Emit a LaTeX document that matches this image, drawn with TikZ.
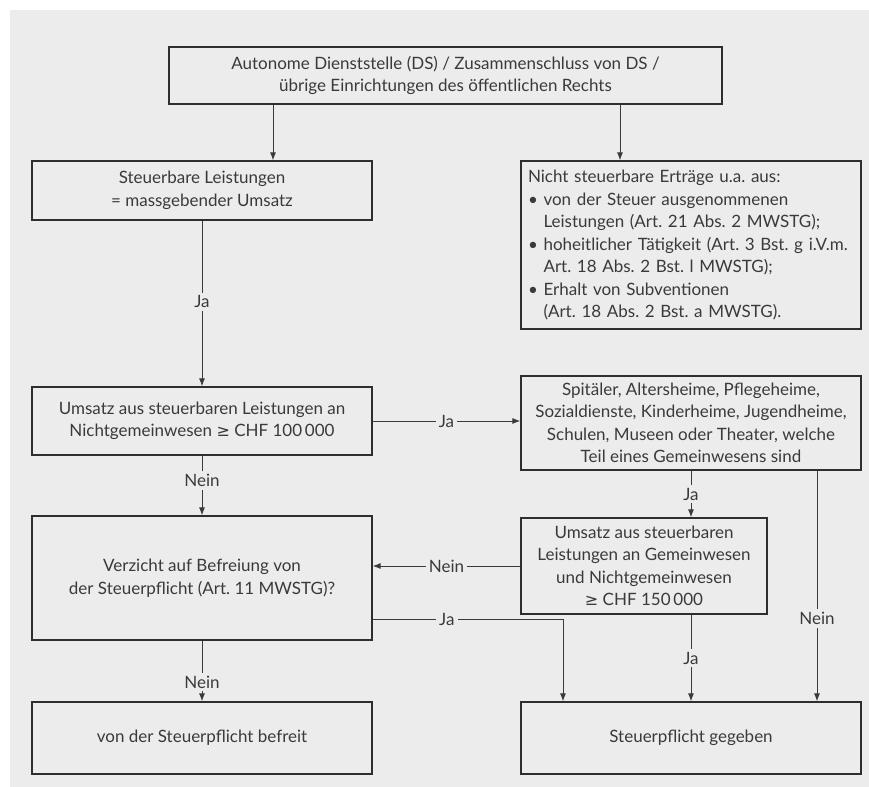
\documentclass[tikz,border=0pt]{standalone}
\usepackage{fontspec}
\setmainfont{Lato}
\newfontfamily\symfont{DejaVu Sans}
\usetikzlibrary{arrows.meta}
\frenchspacing

\definecolor{bggray}{HTML}{ECECEC}
\definecolor{ink}{HTML}{3A3A3A}
\newcommand{\geqsym}{{\symfont\footnotesize ≥}}

\tikzset{
  box/.style={draw=ink!80!black,line width=0.6pt,minimum width=170pt,inner sep=0pt,
    align=center,text=ink,font=\fontsize{8.5}{11.25}\selectfont},
  conn/.style={draw=ink,line width=0.5pt,-{Latex[length=4pt,width=3pt]}},
  lbl/.style={fill=bggray,inner sep=1.5pt,text=ink,font=\fontsize{8.5}{10}\selectfont}
}

\begin{document}
\begin{tikzpicture}[x=0.5pt,y=-0.5pt]
\fill[bggray] (10,10) rectangle (869,787);
\useasboundingbox (0,0) rectangle (869,787);

\node[box,minimum width=276.5pt,minimum height=28.5pt] (start) at (445.5,75.5)
  {Autonome Dienststelle (DS) / Zusammenschluss von DS /\\ übrige Einrichtungen des öffentlichen Rechts};
\node[box,minimum height=29.5pt] (steuer) at (202,190.5)
  {Steuerbare Leistungen\\ = massgebender Umsatz};
\node[box,minimum height=84pt,align=left,text width=163pt,inner xsep=3.5pt] (nicht) at (691,245)
  {Nicht steuerbare Erträge u.a. aus:\\
   • von der Steuer ausgenommenen\\
   \hphantom{• }Leistungen (Art. 21 Abs. 2 MWSTG);\\
   • hoheitlicher Tätigkeit (Art. 3 Bst. g i.V.m.\\
   \hphantom{• }Art. 18 Abs. 2 Bst. l MWSTG);\\
   • Erhalt von Subventionen\\
   \hphantom{• }(Art. 18 Abs. 2 Bst. a MWSTG).};
\node[box,minimum height=34pt] (umsatz) at (202,421)
  {Umsatz aus steuerbaren Leistungen an\\ Nichtgemeinwesen \geqsym\ CHF 100\,000};
\node[box,minimum height=47pt] (spital) at (691,423)
  {Spitäler, Altersheime, Pflegeheime,\\ Sozialdienste, Kinderheime, Jugendheime,\\
   Schulen, Museen oder Theater, welche\\ Teil eines Gemeinwesens sind};
\node[box,minimum width=123pt,minimum height=48pt] (umsatzgw) at (644,566)
  {Umsatz aus steuerbaren\\ Leistungen an Gemeinwesen\\ und Nichtgemeinwesen\\ \geqsym\ CHF 150\,000};
\node[box,minimum height=62pt] (verzicht) at (202,578)
  {Verzicht auf Befreiung von\\ der Steuerpflicht (Art. 11 MWSTG)?};
\node[box,minimum height=36pt] (befreit) at (202,738) {von der Steuerpflicht befreit};
\node[box,minimum height=36pt] (pflicht) at (691,738) {Steuerpflicht gegeben};

\coordinate (xl) at (273,0);
\coordinate (xr) at (620,0);
\coordinate (xn) at (817,0);
\coordinate (jturn) at (563,619);

\draw[conn] (start.south -| xl) -- (steuer.north -| xl);
\draw[conn] (start.south -| xr) -- (nicht.north -| xr);
\draw[conn] (steuer) -- node[lbl,pos=0.49]{Ja} (umsatz);
\draw[conn] (umsatz) -- node[lbl,pos=0.5]{Ja} (spital.west |- umsatz);
\draw[conn] (umsatz) -- node[lbl,pos=0.42]{Nein} (verzicht);
\draw[conn] (spital.south) -- node[lbl]{Ja} (umsatzgw.north -| spital.south);
\draw[conn] (umsatzgw.west) -- node[lbl,pos=0.5]{Nein} (verzicht.east |- umsatzgw.west);
\draw[conn] (verzicht.east |- jturn) -- node[lbl,pos=0.39]{Ja} (jturn) -- (pflicht.north -| jturn);
\draw[conn] (umsatzgw.south -| pflicht.north) -- node[lbl]{Ja} (pflicht.north);
\draw[conn] (spital.south -| xn) -- node[lbl,pos=0.64]{Nein} (pflicht.north -| xn);
\draw[conn] (verzicht) -- node[lbl,pos=0.68]{Nein} (befreit);
\end{tikzpicture}
\end{document}
